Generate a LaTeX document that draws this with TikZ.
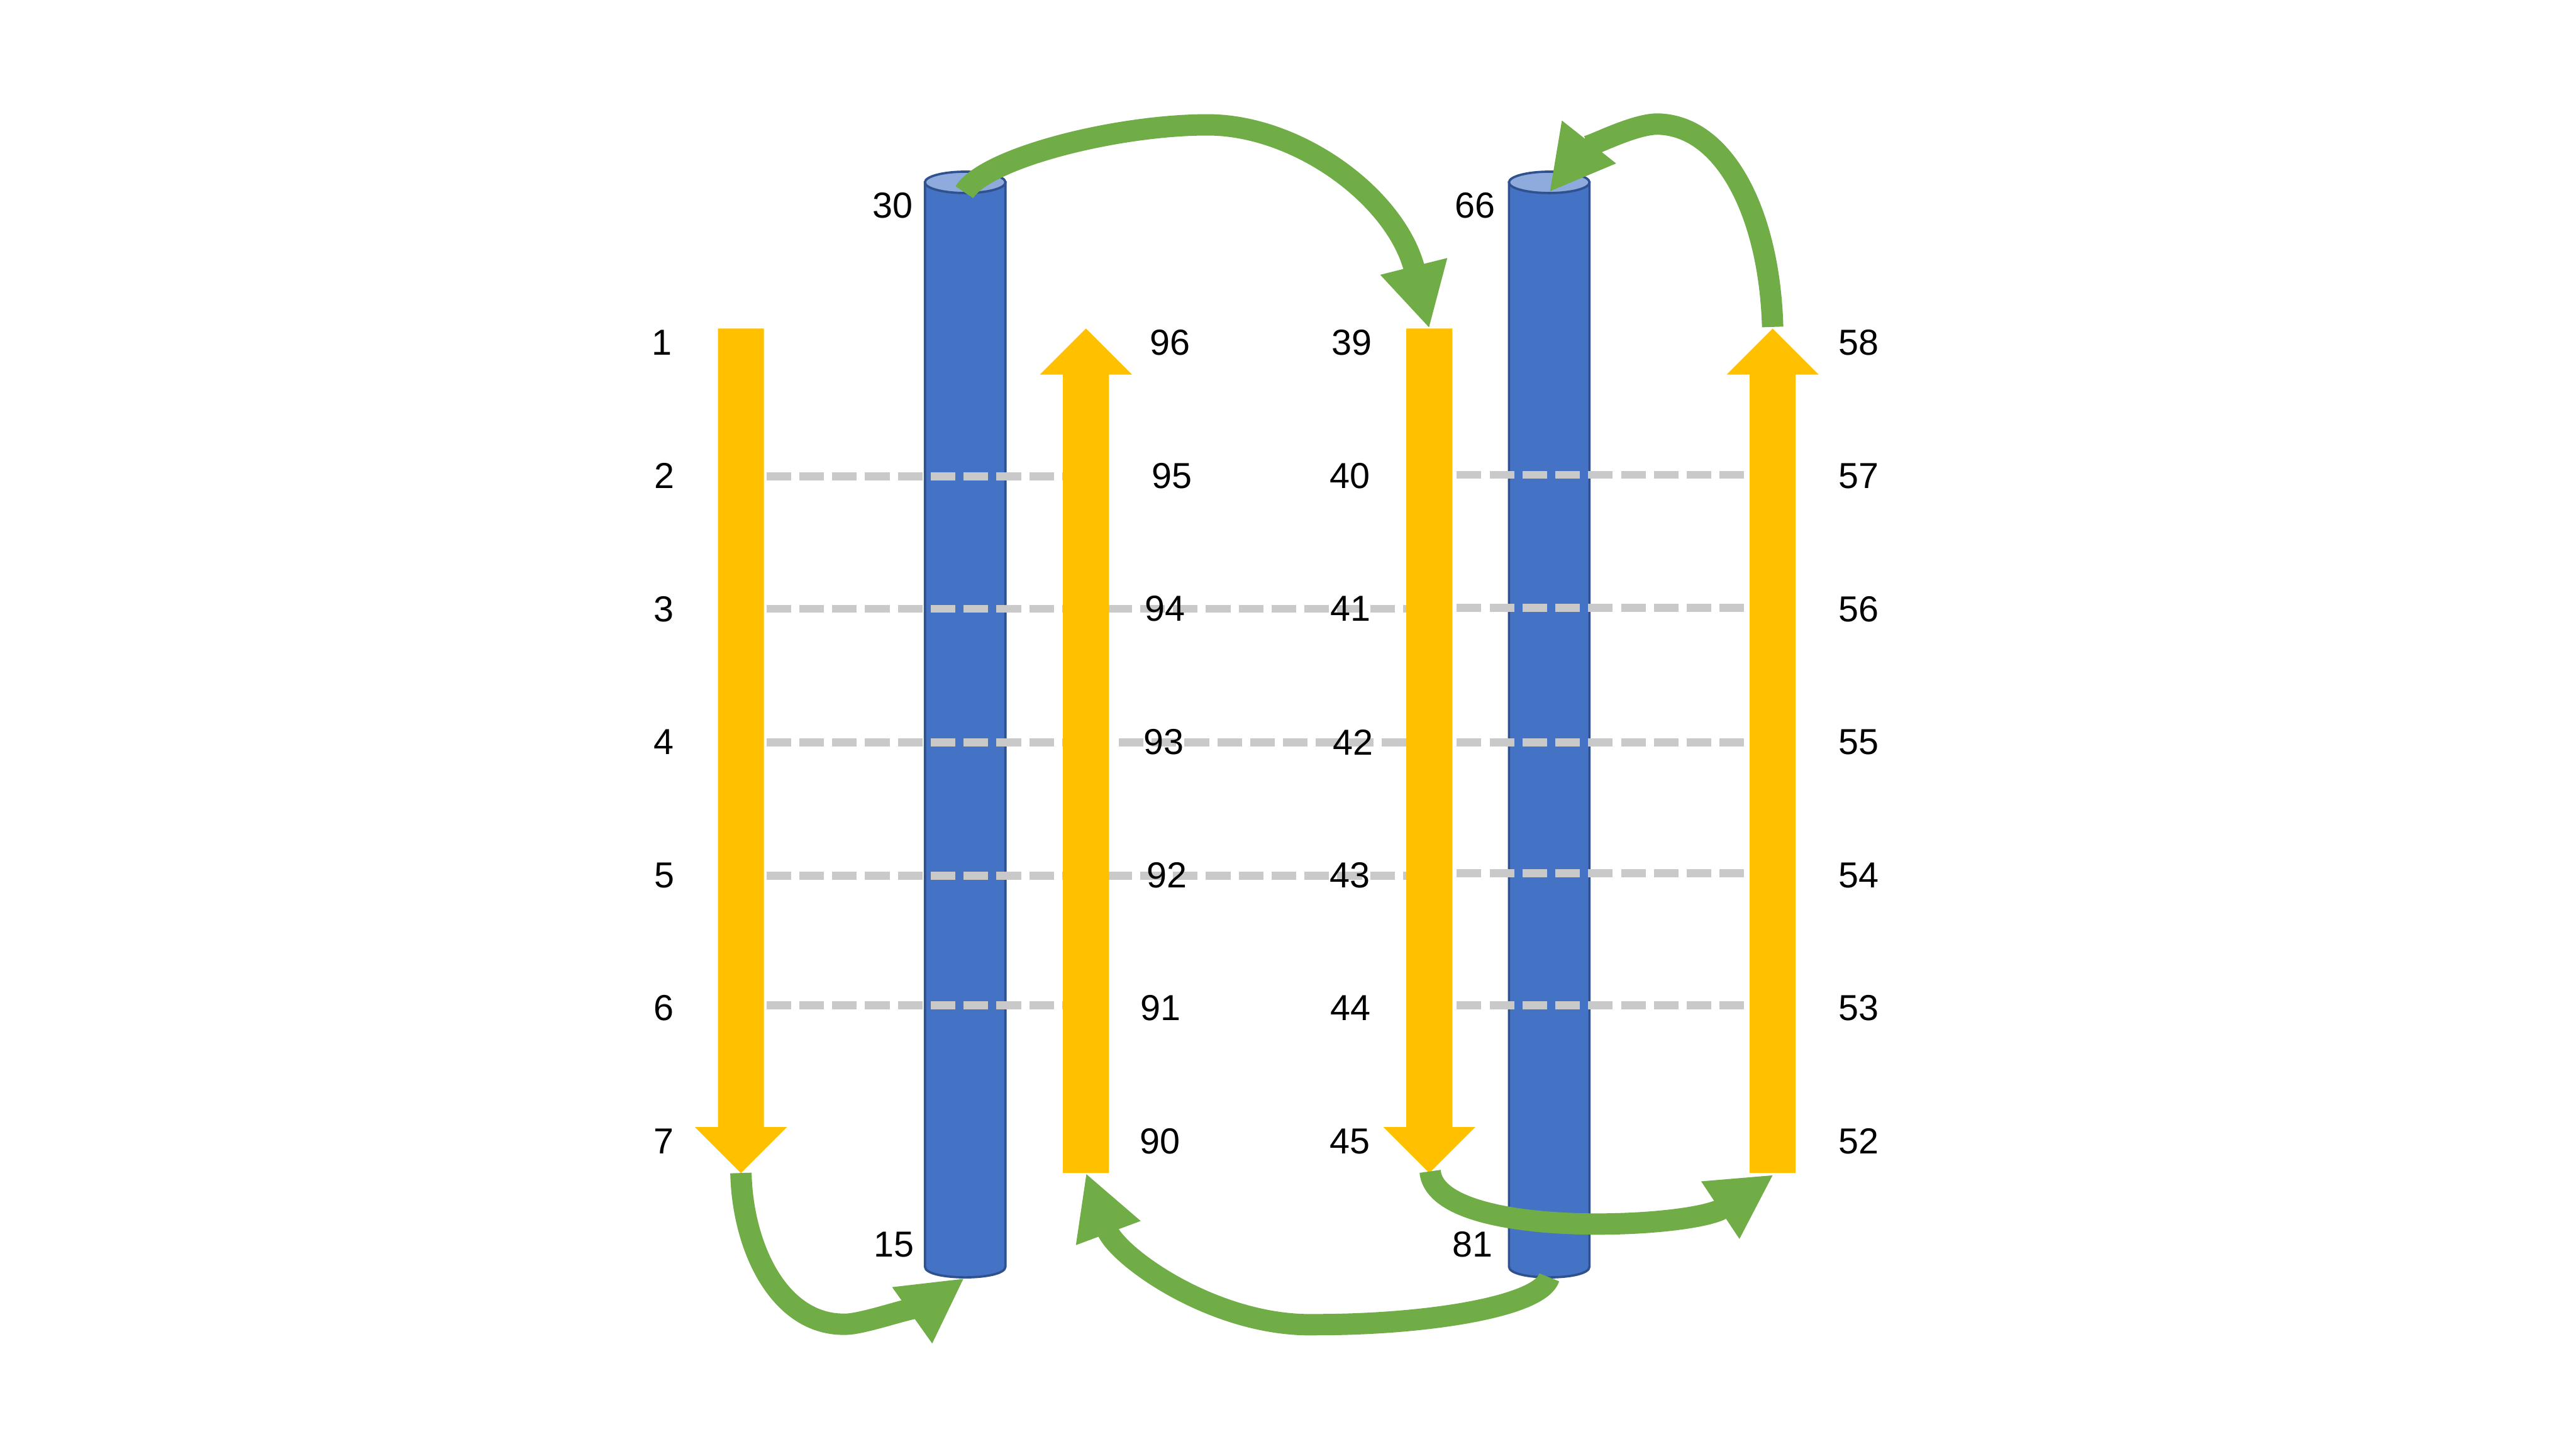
\documentclass[tikz,border=0pt]{standalone}
\usepackage{fontspec}
\setmainfont{Liberation Sans}
\usetikzlibrary{arrows.meta}
\definecolor{cylblue}{HTML}{4472C4}
\definecolor{cyledge}{HTML}{2F528F}
\definecolor{cyltop}{HTML}{8FAADC}
\definecolor{strandyellow}{HTML}{FFC000}
\definecolor{loopgreen}{HTML}{70AD47}
\definecolor{hbondgray}{HTML}{C9C9C9}
\begin{document}
\begin{tikzpicture}[x=0.5pt,y=-0.5pt,
  lbl/.style={font=\fontsize{11pt}{13pt}\selectfont, inner sep=0pt, anchor=center},
  strand/.style={fill=strandyellow, draw=none},
  helixbody/.style={fill=cylblue, draw=cyledge, line width=0.7pt},
  helixtop/.style={fill=cyltop, draw=cyledge, line width=0.7pt},
  hbond/.style={draw=hbondgray, line width=2.4pt, dash pattern=on 7.5pt off 2.5pt},
  loopconn/.style={draw=loopgreen, line width=6.5pt, -{Triangle[width=19.5pt,length=19.5pt]}}
]
\path[use as bounding box, fill=white] (0,0) rectangle (1568,882);

% ---------------- helices (cylinders) ----------------
\filldraw[helixbody] (563,111) -- (563,771) .. controls (563,779.7) and (612,779.7) .. (612,771) -- (612,111) -- cycle;
\filldraw[helixtop] (587.5,111) ellipse [x radius=24.5, y radius=6.5];
\filldraw[helixbody] (918.5,111) -- (918.5,771) .. controls (918.5,779.7) and (967.5,779.7) .. (967.5,771) -- (967.5,111) -- cycle;
\filldraw[helixtop] (943,111) ellipse [x radius=24.5, y radius=6.5];
\coordinate (h1top) at (587,117);
\coordinate (h1bot) at (587,778);
\coordinate (h2top) at (943,117);
\coordinate (h2bot) at (943,777.5);

% ---------------- hydrogen bonds (dashed) ----------------
% left pair
\foreach \i/\yy in {2/290, 3/370.5, 4/452, 5/533, 6/612}{
  \coordinate (hbLa\i) at (466.5,\yy);
  \coordinate (hbLb\i) at (648,\yy);
  \draw[hbond] (hbLa\i) -- (hbLb\i);
}
% middle pair
\foreach \i/\yy/\xs in {3/370.5/674, 4/452/681, 5/533/674}{
  \coordinate (hbMa\i) at (\xs,\yy);
  \coordinate (hbMb\i) at (856,\yy);
  \draw[hbond] (hbMa\i) -- (hbMb\i);
}
% right pair
\foreach \i/\yy in {2/289, 3/370, 4/452, 5/531.5, 6/612}{
  \coordinate (hbRa\i) at (886.7,\yy);
  \coordinate (hbRb\i) at (1068,\yy);
  \draw[hbond] (hbRa\i) -- (hbRb\i);
}

% ---------------- strands (yellow arrows) ----------------
\fill[strand] (437,200) -- (465,200) -- (465,686) -- (479,686) -- (451,714) -- (423,686) -- (437,686) -- cycle;
\fill[strand] (647,714) -- (675,714) -- (675,228) -- (689,228) -- (661,200) -- (633,228) -- (647,228) -- cycle;
\fill[strand] (856,200) -- (884,200) -- (884,686) -- (898,686) -- (870,714) -- (842,686) -- (856,686) -- cycle;
\fill[strand] (1065,714) -- (1093,714) -- (1093,228) -- (1107,228) -- (1079,200) -- (1051,228) -- (1065,228) -- cycle;
\coordinate (s1tail) at (451,200);
\coordinate (s1tip) at (451,714);
\coordinate (s2tail) at (661,714);
\coordinate (s2tip) at (661,200);
\coordinate (s3tail) at (870,200);
\coordinate (s3tip) at (870.5,713);
\coordinate (s4tail) at (1079.6,715);
\coordinate (s4tip) at (1079,199);

% ---------------- labels ----------------
\node[lbl] (r1) at (403,208.7) {1};
\node[lbl] (r2) at (404.5,289.7) {2};
\node[lbl] (r3) at (404,370.7) {3};
\node[lbl] (r4) at (404,451.7) {4};
\node[lbl] (r5) at (404.5,532.7) {5};
\node[lbl] (r6) at (404,613.7) {6};
\node[lbl] (r7) at (404,694.7) {7};

\node[lbl] (r96) at (712.3,208.7) {96};
\node[lbl] (r95) at (713.4,289.7) {95};
\node[lbl] (r94) at (709.3,370.5) {94};
\node[lbl] (r93) at (708.4,451.7) {93};
\node[lbl] (r92) at (710.3,532.7) {92};
\node[lbl] (r91) at (706.5,613.7) {91};
\node[lbl] (r90) at (706,694.7) {90};

\node[lbl] (r39) at (823,208.7) {39};
\node[lbl] (r40) at (821.6,289.7) {40};
\node[lbl] (r41) at (822,370.5) {41};
\node[lbl] (r42) at (823.5,451.7) {42};
\node[lbl] (r43) at (821.6,532.7) {43};
\node[lbl] (r44) at (822,613.7) {44};
\node[lbl] (r45) at (821.6,694.7) {45};

\node[lbl] (r58) at (1131.5,208.7) {58};
\node[lbl] (r57) at (1131.5,289.7) {57};
\node[lbl] (r56) at (1131.5,370.7) {56};
\node[lbl] (r55) at (1131.5,451.7) {55};
\node[lbl] (r54) at (1131.5,532.7) {54};
\node[lbl] (r53) at (1131.5,613.7) {53};
\node[lbl] (r52) at (1131.5,694.7) {52};

\node[lbl] (r30) at (543.4,125.2) {30};
\node[lbl] (r15) at (544.2,757.6) {15};
\node[lbl] (r66) at (898,125.2) {66};
\node[lbl] (r81) at (896.4,757.6) {81};

% ---------------- loops (green arrows) ----------------
% helix 1 top -> strand 3 start
\draw[loopconn] (h1top) .. controls (600,96) and (680,76) .. (735,76)
  .. controls (790,76) and (850,120) .. (s3tail);
% strand 4 end -> helix 2 top
\draw[loopconn] (s4tip) .. controls (1077,130) and (1050,78) .. (1011,75.6)
  .. controls (995,74) and (962,93) .. (h2top);
% strand 1 end -> helix 1 bottom
\draw[loopconn] (s1tip) .. controls (452,760) and (475,808) .. (516,806)
  .. controls (531,805) and (570.7,789.6) .. (h1bot);
% helix 2 bottom -> strand 2 start
\draw[loopconn] (h2bot) .. controls (938,795) and (870,806.3) .. (801,806.3)
  .. controls (740,808) and (680,765) .. (s2tail);
% strand 3 end -> strand 4 start
\draw[loopconn] (s3tip) .. controls (874,755) and (1030,748) .. (s4tail);
\end{tikzpicture}
\end{document}
